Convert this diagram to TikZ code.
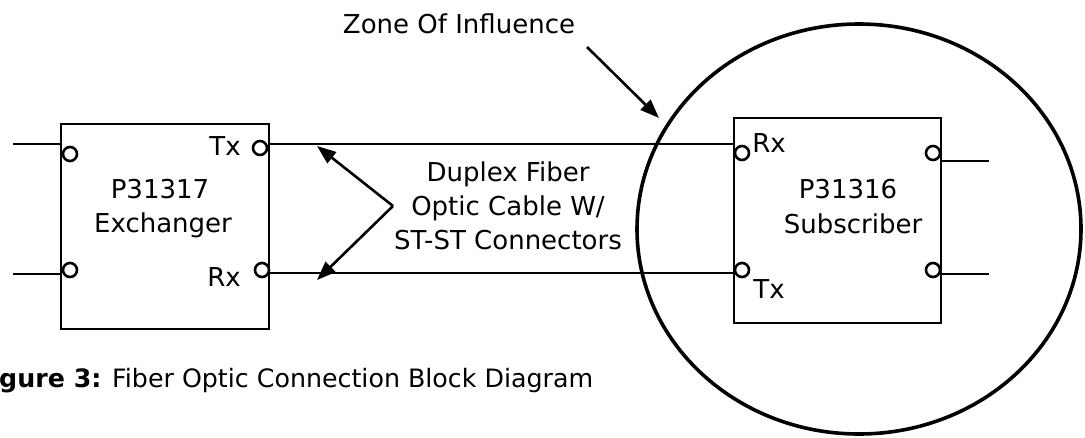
\documentclass[tikz,border=0pt]{standalone}
\usepackage{fontspec}
\setmainfont{DejaVu Sans}
\usetikzlibrary{arrows.meta,shapes.geometric}
\begin{document}
\begin{tikzpicture}[x=1pt,y=-1pt,
  wire/.style={line width=2.6pt},
  boxnode/.style={draw,line width=2.6pt,inner sep=0pt},
  port/.style={circle,draw,line width=2.6pt,fill=white,minimum size=14pt,inner sep=0pt},
  lbl/.style={inner sep=0pt,font=\fontsize{26}{34}\selectfont},
  ptr/.style={line width=2.6pt,-{Triangle[length=19pt,width=14pt]}},
  zone/.style={ellipse,draw,line width=3.6pt,inner sep=0pt}]
\useasboundingbox (0,0) rectangle (1085,437);
% boxes
\node[boxnode,minimum width=208pt,minimum height=205pt] (ex) at (165,226.5) {};
\node[boxnode,minimum width=207pt,minimum height=205pt] (sub) at (837.5,220.5) {};
% zone of influence
\node[zone,minimum width=444pt,minimum height=410pt] (zoi) at (859,229) {};
% line coordinates
\coordinate (l1) at (13,144);
\coordinate (l2) at (13,274);
\coordinate (txy) at (0,144);
\coordinate (rxy) at (0,273);
\coordinate (r1) at (989,161);
\coordinate (r2) at (989,274);
% wires
\draw[wire] (l1) -- (l1 -| ex.west);
\draw[wire] (l2) -- (l2 -| ex.west);
\draw[wire] (ex.east |- txy) -- (sub.west |- txy);
\draw[wire] (ex.east |- rxy) -- (sub.west |- rxy);
\draw[wire] (sub.east |- r1) -- (r1);
\draw[wire] (sub.east |- r2) -- (r2);
% ports
\node[port] (eLT) at (70,154) {};
\node[port] (eLB) at (70,270) {};
\node[port] (eTx) at (260,148) {};
\node[port] (eRx) at (262,270) {};
\node[port] (sRx) at (742,153) {};
\node[port] (sTx) at (742,270) {};
\node[port] (sR1) at (933,153) {};
\node[port] (sR2) at (933,270) {};
% labels
\node[lbl] (tTx) at (225,146) {Tx};
\node[lbl] (tRx) at (224,277) {Rx};
\node[lbl] (exn) at (160,189) {P31317};
\node[lbl] (exd) at (163,225) {Exchanger};
\node[lbl] (sRxl) at (769,143) {Rx};
\node[lbl] (sTxl) at (769,289) {Tx};
\node[lbl] (subn) at (848,189) {P31316};
\node[lbl] (subd) at (853,224) {Subscriber};
\node[lbl,align=center] (dup) at (508,206) {Duplex Fiber\\Optic Cable W/\\ST-ST Connectors};
\coordinate (dupc) at (393,206);
\coordinate (tipT) at (317,146);
\coordinate (tipB) at (317,280);
\draw[ptr] (dupc) -- (tipT);
\draw[ptr] (dupc) -- (tipB);
\node[lbl] (zt) at (459,24) {Zone Of Influence};
\coordinate (za) at (587,47);
\coordinate (zb) at (659,118);
\draw[ptr] (za) -- (zb);
\node[lbl,anchor=base west,font=\fontsize{25.3}{30}\selectfont] (cap) at (-1,387) {\textbf{gure 3:} Fiber Optic Connection Block Diagram};
\end{tikzpicture}
\end{document}
